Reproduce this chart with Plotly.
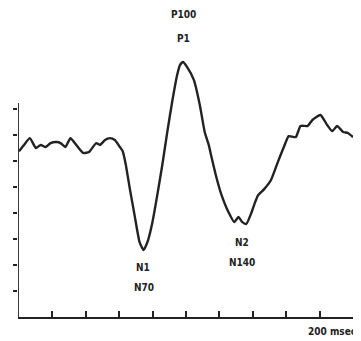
import plotly.graph_objects as go

# Time (ms) and amplitude (arbitrary units, one unit per y tick)
time_ms = [0.0, 3.0, 6.5, 10.1, 13.0, 16.0, 18.9, 22.5, 24.9, 27.8, 30.8, 34.3, 38.5, 42.0,
           46.2, 48.5, 51.5, 54.4, 57.4, 60.4, 62.1, 63.9, 66.3, 69.2, 72.2, 74.6, 76.9,
           79.9, 82.8, 85.8, 88.8, 91.7, 94.7, 96.4, 98.2, 100.6, 104.7, 108.3, 111.2,
           113.6, 115.4, 118.3, 121.3, 125.4, 129.0, 131.4, 133.7, 136.1, 139.1, 141.4,
           143.2, 146.8, 150.9, 155.0, 158.6, 161.5, 165.7, 168.6, 172.8, 175.7, 180.5,
           184.6, 187.6, 190.5, 194.1, 197.0, 200.0]
amplitude = [6.38, 6.62, 6.88, 6.50, 6.62, 6.54, 6.69, 6.73, 6.69, 6.54, 6.88, 6.62, 6.31, 6.35,
             6.69, 6.62, 6.81, 6.88, 6.81, 6.54, 6.38, 5.88, 4.96, 3.92, 2.88, 2.58, 2.88,
             3.65, 4.69, 5.85, 7.12, 8.27, 9.31, 9.69, 9.81, 9.62, 9.12, 8.15, 7.12,
             6.62, 6.12, 5.35, 4.69, 4.04, 3.65, 3.85, 3.65, 3.58, 4.00, 4.42,
             4.69, 4.92, 5.27, 5.96, 6.54, 6.96, 6.92, 7.35, 7.35, 7.58, 7.77,
             7.38, 7.15, 7.35, 7.12, 7.08, 6.92]

x_ticks = [20, 40, 60, 80, 100, 120, 140, 160, 180, 200]
y_ticks = [1, 2, 3, 4, 5, 6, 7, 8]
y_axis_top = 8.23
x_range = [-0.6, 200]
y_range = [0, 10.08]

# Component labels: (text, time, amplitude)
labels = [("P100", 98.8, 11.62), ("P1", 98.8, 10.73),
          ("N1", 74.0, 1.92), ("N70", 74.6, 1.15),
          ("N2", 133.5, 2.88), ("N140", 133.5, 2.08)]
unit_label = ("200 msec", 203.0, -0.54)

ink = "#222222"
font_family = "Liberation Sans Narrow, DejaVu Sans Condensed, Arial Narrow, sans-serif"


def to_paper_x(t):
    return (t - x_range[0]) / (x_range[1] - x_range[0])


def to_paper_y(v):
    return (v - y_range[0]) / (y_range[1] - y_range[0])


fig = go.Figure()
fig.add_trace(go.Scatter(x=time_ms, y=amplitude, mode="lines",
                         line=dict(color=ink, width=2.4, shape="spline", smoothing=0.5),
                         hoverinfo="skip", showlegend=False))

# y axis line only up to the top tick region
fig.add_shape(type="line", xref="x", yref="y", x0=x_range[0], x1=x_range[0], y0=0, y1=y_axis_top,
              line=dict(color=ink, width=1.8))

for text, t, v in labels:
    fig.add_annotation(x=to_paper_x(t), y=to_paper_y(v), xref="paper", yref="paper",
                       text="<b>%s</b>" % text,
                       showarrow=False, xanchor="center", yanchor="middle",
                       font=dict(family=font_family, size=10, color=ink))
fig.add_annotation(x=to_paper_x(unit_label[1]), y=to_paper_y(unit_label[2]),
                   xref="paper", yref="paper",
                   text="<b>%s</b>" % unit_label[0], showarrow=False,
                   xanchor="right", yanchor="middle",
                   font=dict(family=font_family, size=10, color=ink))

fig.update_layout(
    width=353, height=333,
    margin=dict(l=6, r=8, t=47, b=24),
    paper_bgcolor="white", plot_bgcolor="white",
    xaxis=dict(range=x_range, showgrid=False, zeroline=False,
               showline=True, linecolor=ink, linewidth=1.8,
               tickmode="array", tickvals=x_ticks, ticks="inside", ticklen=6,
               tickwidth=1.5, tickcolor=ink, showticklabels=False, fixedrange=True),
    yaxis=dict(range=y_range, showgrid=False, zeroline=False, showline=False,
               tickmode="array", tickvals=y_ticks, ticks="outside", ticklen=4,
               tickwidth=1.5, tickcolor=ink, showticklabels=False, fixedrange=True),
)

fig.write_html("out.html")
